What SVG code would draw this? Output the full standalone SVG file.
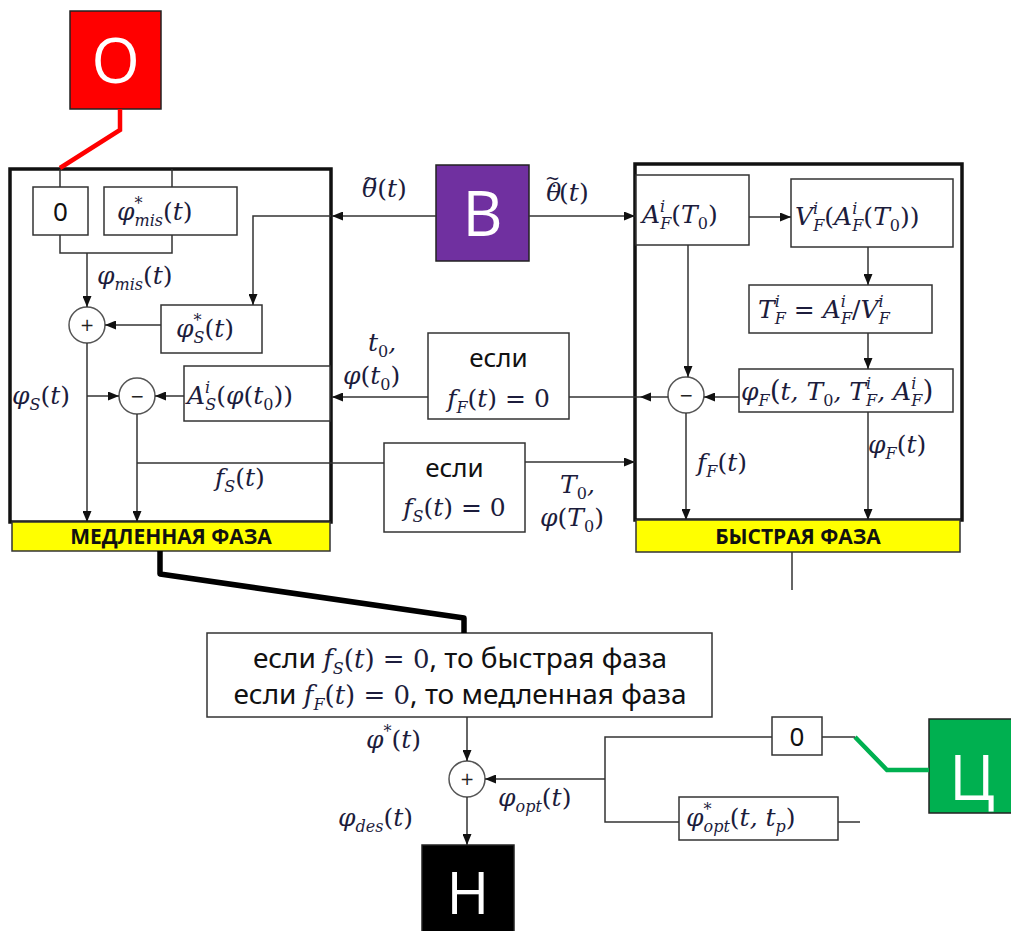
<svg xmlns="http://www.w3.org/2000/svg" width="1011" height="931" viewBox="0 0 1011 931">
<defs>
<marker id="ah" markerWidth="11" markerHeight="9" refX="11" refY="4.5" orient="auto" markerUnits="userSpaceOnUse"><path d="M0,0 L11,4.5 L0,9 z" fill="#111"/></marker>
<style>
.m{font-family:"DejaVu Serif","Liberation Serif",serif;font-style:italic;font-size:25px;fill:#1c1c3c}
.n{font-style:normal}
.s{font-size:16px}
.acc{font-style:normal;font-size:18px}
.t{font-family:"Noto Sans","Open Sans",sans-serif;font-size:26px;fill:#111}
.t2{font-family:"Noto Sans","Open Sans",sans-serif;font-size:28px;fill:#111}
.m2{font-size:26px}
.box{fill:#fff;stroke:#333;stroke-width:1.5}
.big{fill:none;stroke:#111;stroke-width:3.5}
.bar{fill:#ffff00;stroke:#333;stroke-width:1.5}
.bart{font-family:"Open Sans","Noto Sans",sans-serif;font-weight:bold;font-size:21px;fill:#111;text-anchor:middle}
.ln{fill:none;stroke:#333;stroke-width:1.5}
.arr{fill:none;stroke:#333;stroke-width:1.5;marker-end:url(#ah)}
.circ{fill:#fff;stroke:#555;stroke-width:1.5}
.op{font-family:"DejaVu Sans",sans-serif;font-size:17px;fill:#222;text-anchor:middle}
.big-l{font-family:"Open Sans","Noto Sans",sans-serif;font-size:62px;fill:#fff;text-anchor:middle}
</style>
</defs>

<!-- external blocks -->
<g id="node-O"><rect x="70" y="11" width="91" height="98" fill="#ff0000" stroke="#222" stroke-width="1.5"/><text class="big-l" x="115.5" y="83">О</text></g>
<g id="node-V"><rect x="436" y="165" width="93" height="96" fill="#7030a0" stroke="#222" stroke-width="1.5"/><text class="big-l" x="482.5" y="236">В</text></g>
<g id="node-N"><rect x="422" y="845" width="92" height="90" fill="#000" stroke="#222" stroke-width="1.5"/><text class="big-l" x="468" y="914" style="font-size:58px">Н</text></g>
<g id="node-C"><rect x="929" y="719" width="90" height="94" fill="#00b050" stroke="#222" stroke-width="1.5"/><text class="big-l" x="972" y="800">Ц</text></g>

<!-- slow phase -->
<g id="slow-phase">
<rect class="big" x="10" y="169" width="321" height="353"/>
<rect class="bar" x="12" y="522" width="318" height="29"/>
<text class="bart" x="171" y="544">МЕДЛЕННАЯ ФАЗА</text>
</g>
<g id="slow-zero"><rect class="box" x="33" y="187" width="55" height="48"/><text class="t" x="60.5" y="221" text-anchor="middle">0</text></g>
<g id="slow-phimis"><rect class="box" x="104" y="187" width="133" height="48"/><text class="m" x="117" y="220">φ<tspan class="s" dy="-11">*</tspan><tspan class="s" dx="-8" dy="17">mis</tspan><tspan class="n" dy="-6">(</tspan>t<tspan class="n">)</tspan></text></g>
<g id="slow-sum"><circle class="circ" cx="87" cy="325" r="18"/><text class="op" x="87" y="331">+</text></g>
<g id="slow-phiS"><rect class="box" x="161" y="305" width="101" height="48"/><text class="m" x="176" y="337">φ<tspan class="s" dy="-11">*</tspan><tspan class="s" dx="-8" dy="17">S</tspan><tspan class="n" dy="-6">(</tspan>t<tspan class="n">)</tspan></text></g>
<g id="slow-diff"><circle class="circ" cx="137" cy="396" r="18"/><text class="op" x="137" y="402">−</text></g>
<g id="slow-AS"><rect class="box" x="184" y="366" width="146" height="55"/><text class="m" x="187" y="404">A<tspan class="s" dy="-11">i</tspan><tspan class="s" dx="-5" dy="17">S</tspan><tspan class="n" dy="-6">(</tspan>φ<tspan class="n">(</tspan>t<tspan class="s n" dy="6">0</tspan><tspan class="n" dy="-6">))</tspan></text></g>

<!-- fast phase -->
<g id="fast-phase">
<rect class="big" x="635" y="164" width="327" height="356"/>
<rect class="bar" x="636" y="520" width="324" height="32"/>
<text class="bart" x="798" y="544">БЫСТРАЯ ФАЗА</text>
</g>
<g id="fast-AF"><rect class="box" x="636" y="175" width="113" height="70"/><text class="m" x="642" y="223">A<tspan class="s" dy="-11">i</tspan><tspan class="s" dx="-5" dy="17">F</tspan><tspan class="n" dy="-6">(</tspan>T<tspan class="s n" dy="6">0</tspan><tspan class="n" dy="-6">)</tspan></text></g>
<g id="fast-VF"><rect class="box" x="791" y="179" width="162" height="68"/><text class="m" x="795" y="225">V<tspan class="s" dy="-11">i</tspan><tspan class="s" dx="-5" dy="17">F</tspan><tspan class="n" dy="-6">(</tspan>A<tspan class="s" dy="-11">i</tspan><tspan class="s" dx="-5" dy="17">F</tspan><tspan class="n" dy="-6">(</tspan>T<tspan class="s n" dy="6">0</tspan><tspan class="n" dy="-6">))</tspan></text></g>
<g id="fast-TF"><rect class="box" x="749" y="285" width="183" height="48"/><text class="m" x="758" y="318">T<tspan class="s" dy="-11">i</tspan><tspan class="s" dx="-5" dy="17">F</tspan><tspan class="n" dy="-6"> = </tspan>A<tspan class="s" dy="-11">i</tspan><tspan class="s" dx="-5" dy="17">F</tspan><tspan class="n" dy="-6">/</tspan>V<tspan class="s" dy="-11">i</tspan><tspan class="s" dx="-5" dy="17">F</tspan></text></g>
<g id="fast-phiF"><rect class="box" x="739" y="369" width="214" height="43"/><text class="m" x="741" y="400">φ<tspan class="s" dy="6">F</tspan><tspan class="n" dy="-6" style="font-size:28px">(</tspan>t, T<tspan class="s n" dy="6">0</tspan><tspan dy="-6">, T</tspan><tspan class="s" dy="-11">i</tspan><tspan class="s" dx="-5" dy="17">F</tspan><tspan dy="-6">, A</tspan><tspan class="s" dy="-11">i</tspan><tspan class="s" dx="-5" dy="17">F</tspan><tspan class="n" dy="-6" style="font-size:28px">)</tspan></text></g>
<g id="fast-diff"><circle class="circ" cx="686" cy="395" r="18"/><text class="op" x="686" y="401">−</text></g>

<!-- condition boxes -->
<g id="cond-F"><rect class="box" x="428" y="333" width="141" height="86"/><text class="t" x="498.5" y="367" text-anchor="middle">если</text><text class="m" x="498.5" y="407" text-anchor="middle">f<tspan class="s" dy="6">F</tspan><tspan class="n" dy="-6">(</tspan>t<tspan class="n">) = 0</tspan></text></g>
<g id="cond-S"><rect class="box" x="384" y="443" width="141" height="89"/><text class="t" x="454.5" y="477" text-anchor="middle">если</text><text class="m" x="454.5" y="516" text-anchor="middle">f<tspan class="s" dy="6">S</tspan><tspan class="n" dy="-6">(</tspan>t<tspan class="n">) = 0</tspan></text></g>
<g id="switch"><rect class="box" x="207" y="633" width="505" height="84"/>
<text x="460" y="668" text-anchor="middle"><tspan class="t2">если </tspan><tspan class="m m2">f</tspan><tspan class="m s" dy="6">S</tspan><tspan class="m m2 n" dy="-6">(</tspan><tspan class="m m2">t</tspan><tspan class="m m2 n">) = 0</tspan><tspan class="t2">, то быстрая фаза</tspan></text>
<text x="460" y="704" text-anchor="middle"><tspan class="t2">если </tspan><tspan class="m m2">f</tspan><tspan class="m s" dy="6">F</tspan><tspan class="m m2 n" dy="-6">(</tspan><tspan class="m m2">t</tspan><tspan class="m m2 n">) = 0</tspan><tspan class="t2">, то медленная фаза</tspan></text></g>
<g id="final-sum"><circle class="circ" cx="467" cy="779" r="18"/><text class="op" x="467" y="785">+</text></g>
<g id="opt-zero"><rect class="box" x="772" y="717" width="50" height="38"/><text class="t" x="797" y="746" text-anchor="middle">0</text></g>
<g id="opt-phi"><rect class="box" x="679" y="797" width="159" height="43"/><text class="m" x="686" y="826">φ<tspan class="s" dy="-11">*</tspan><tspan class="s" dx="-8" dy="17">opt</tspan><tspan class="n" dy="-6">(</tspan>t, t<tspan class="s" dy="6">p</tspan><tspan class="n" dy="-6">)</tspan></text></g>

<!-- connectors -->
<g id="connectors">
<path d="M120,109 V130 L60,168" fill="none" stroke="#ff0000" stroke-width="4.5"/>
<path d="M855,737 L887,770 H929" fill="none" stroke="#00b050" stroke-width="4.5"/>
<path d="M160,551 V574 L464,618 V633" fill="none" stroke="#000" stroke-width="5.5" stroke-linejoin="round"/>
<path class="ln" d="M60,169 V187 M172,169 V187 M60,235 V253 H172 V235"/>
<path class="arr" d="M87,253 V307"/>
<path class="arr" d="M161,325 H105"/>
<path class="arr" d="M331,216 H253 V305"/>
<path class="arr" d="M87,343 V522"/>
<path class="arr" d="M87,396 H119"/>
<path class="arr" d="M184,396 H155"/>
<path class="arr" d="M137,414 V522"/>
<path class="ln" d="M137,463 H384"/>
<path class="arr" d="M525,462 H635"/>
<path class="arr" d="M436,216 H332"/>
<path class="arr" d="M529,216 H635"/>
<path class="arr" d="M428,397 H332"/>
<path class="ln" d="M569,397 H668"/>
<path d="M640,397 L651,392.5 L651,401.5 z" fill="#111"/>
<path class="arr" d="M749,217 H791"/>
<path class="arr" d="M868,247 V285"/>
<path class="arr" d="M868,333 V369"/>
<path class="arr" d="M739,397 H704"/>
<path class="arr" d="M688,245 V377"/>
<path class="arr" d="M686,413 V520"/>
<path class="arr" d="M868,412 V520"/>
<path class="ln" d="M792,552 V590"/>
<path class="arr" d="M467,717 V761"/>
<path class="arr" d="M467,797 V845"/>
<path class="arr" d="M605,779 H485"/>
<path class="ln" d="M772,737 H605 V822 H679 M822,737 H855 M838,822 H860"/>
</g>

<!-- connector labels -->
<g id="labels">
<text class="m" x="97" y="284">φ<tspan class="s" dy="6">mis</tspan><tspan class="n" dy="-6">(</tspan>t<tspan class="n">)</tspan></text>
<text class="m" x="12" y="404">φ<tspan class="s" dy="6">S</tspan><tspan class="n" dy="-6">(</tspan>t<tspan class="n">)</tspan></text>
<text class="m" x="215" y="486">f<tspan class="s" dy="6">S</tspan><tspan class="n" dy="-6">(</tspan>t<tspan class="n">)</tspan></text>
<text class="m" x="362" y="197">θ<tspan class="acc" dx="-14" dy="-13">~</tspan><tspan class="n" dx="-1" dy="13">(</tspan>t<tspan class="n">)</tspan></text>
<text class="m" x="545" y="201">θ<tspan class="acc" dx="-10" dy="-9">·</tspan><tspan class="acc" dx="-12" dy="-8">~</tspan><tspan class="n" dx="-1" dy="17">(</tspan>t<tspan class="n">)</tspan></text>
<text class="m" x="368" y="351">t<tspan class="s n" dy="6">0</tspan><tspan dy="-6">,</tspan></text>
<text class="m" x="343" y="384">φ<tspan class="n">(</tspan>t<tspan class="s n" dy="6">0</tspan><tspan class="n" dy="-6">)</tspan></text>
<text class="m" x="560" y="493">T<tspan class="s n" dy="6">0</tspan><tspan dy="-6">,</tspan></text>
<text class="m" x="540" y="526">φ<tspan class="n">(</tspan>T<tspan class="s n" dy="6">0</tspan><tspan class="n" dy="-6">)</tspan></text>
<text class="m" x="697" y="471">f<tspan class="s" dy="6">F</tspan><tspan class="n" dy="-6">(</tspan>t<tspan class="n">)</tspan></text>
<text class="m" x="868" y="453">φ<tspan class="s" dy="6">F</tspan><tspan class="n" dy="-6">(</tspan>t<tspan class="n">)</tspan></text>
<text class="m" x="366" y="748">φ<tspan class="s" dy="-11">*</tspan><tspan class="n" dy="11">(</tspan>t<tspan class="n">)</tspan></text>
<text class="m" x="338" y="826">φ<tspan class="s" dy="6">des</tspan><tspan class="n" dy="-6">(</tspan>t<tspan class="n">)</tspan></text>
<text class="m" x="498" y="806">φ<tspan class="s" dy="6">opt</tspan><tspan class="n" dy="-6">(</tspan>t<tspan class="n">)</tspan></text>
</g>
</svg>
